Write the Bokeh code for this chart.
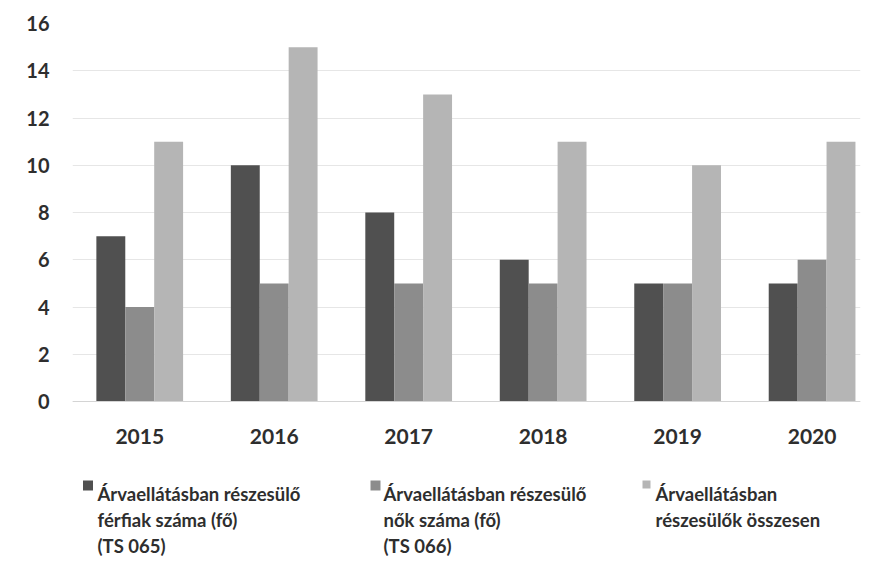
from bokeh.plotting import figure
from bokeh.models import Range1d, FixedTicker, Span, ColumnDataSource
from bokeh.core.properties import value
from bokeh.embed import file_html
from bokeh.resources import INLINE

# ---- data ----
years = ["2015", "2016", "2017", "2018", "2019", "2020"]
ferfiak = [7, 10, 8, 6, 5, 5]       # Árvaellátásban részesülő férfiak száma (fő) (TS 065)
nok = [4, 5, 5, 5, 5, 6]            # Árvaellátásban részesülő nők száma (fő) (TS 066)
osszesen = [11, 15, 13, 11, 10, 11]  # Árvaellátásban részesülők összesen
legend_lines = [
    ["Árvaellátásban részesülő", "férfiak száma (fő)", "(TS 065)"],
    ["Árvaellátásban részesülő", "nők száma (fő)", "(TS 066)"],
    ["Árvaellátásban", "részesülők összesen"],
]
y_ticks = [0, 2, 4, 6, 8, 10, 12, 14, 16]

# ---- style ----
colors = ["#505050", "#8c8c8c", "#b5b5b5"]
series = [ferfiak, nok, osszesen]
offsets = [-0.215, 0.0, 0.215]
bar_w = 0.215
FONT = "Lato"
TXT = "#2e2e2e"

W, H = 890, 563
X0, X1 = -0.5, 5.36
FL, FR, FT, FB = 72, 860, 23, 401  # plot area edges (px), FB = value 0
PX_PER_UNIT = (FB - FT) / 16.0
YMIN = -(H - FB) / PX_PER_UNIT

p = figure(width=W, height=H, output_backend="svg", toolbar_location=None,
           x_range=Range1d(X0, X1), y_range=Range1d(YMIN, 16),
           min_border_left=FL, min_border_right=W - FR,
           min_border_top=FT, min_border_bottom=0)
p.outline_line_color = None
p.background_fill_color = "white"
p.border_fill_color = "white"


def dx(px):
    return X0 + (px - FL) * (X1 - X0) / (FR - FL)


def dy(py):
    return (FB - py) / PX_PER_UNIT


idx = list(range(len(years)))
for vals, off, c in zip(series, offsets, colors):
    p.vbar(x=[i + off for i in idx], top=vals, width=bar_w, bottom=0,
           fill_color=c, line_color=None)

p.xgrid.visible = False
p.ygrid.grid_line_color = "#e6e6e6"
p.ygrid.ticker = FixedTicker(ticks=y_ticks)
p.add_layout(Span(location=0, dimension="width", line_color="#d4d4d4", line_width=1))

p.yaxis.ticker = FixedTicker(ticks=y_ticks)
p.yaxis.axis_line_color = None
p.yaxis.major_tick_line_color = None
p.yaxis.minor_tick_line_color = None
p.yaxis.major_label_standoff = 17
p.yaxis.major_label_text_font = FONT
p.yaxis.major_label_text_font_style = "bold"
p.yaxis.major_label_text_font_size = "20px"
p.yaxis.major_label_text_color = TXT

p.xaxis.visible = False

# category labels under the bars
p.text(x=idx, y=[dy(436)] * len(idx), text=years, text_align="center",
       text_baseline="middle", text_font=value(FONT), text_font_style="bold",
       text_font_size="21px", text_color=TXT)

# ---- legend (drawn below the plot area) ----
text_x = [97, 383, 655]
marker_x = [87.5, 375, 646]
marker_y = [485, 485, 484]
marker_size = [10, 10, 8]
baselines = [493, 519, 545]
for k in range(3):
    p.scatter(x=[dx(marker_x[k])], y=[dy(marker_y[k])], marker="square",
              size=marker_size[k], fill_color=colors[k], line_color=None)
    lines = legend_lines[k]
    src = ColumnDataSource(dict(x=[dx(text_x[k])] * len(lines),
                                y=[dy(b) for b in baselines[:len(lines)]],
                                t=lines))
    p.text(x="x", y="y", text="t", source=src, text_align="left",
           text_baseline="alphabetic", text_font=value(FONT),
           text_font_style="bold", text_font_size="18.5px", text_color=TXT)

open("out.html", "w").write(file_html(p, INLINE))
